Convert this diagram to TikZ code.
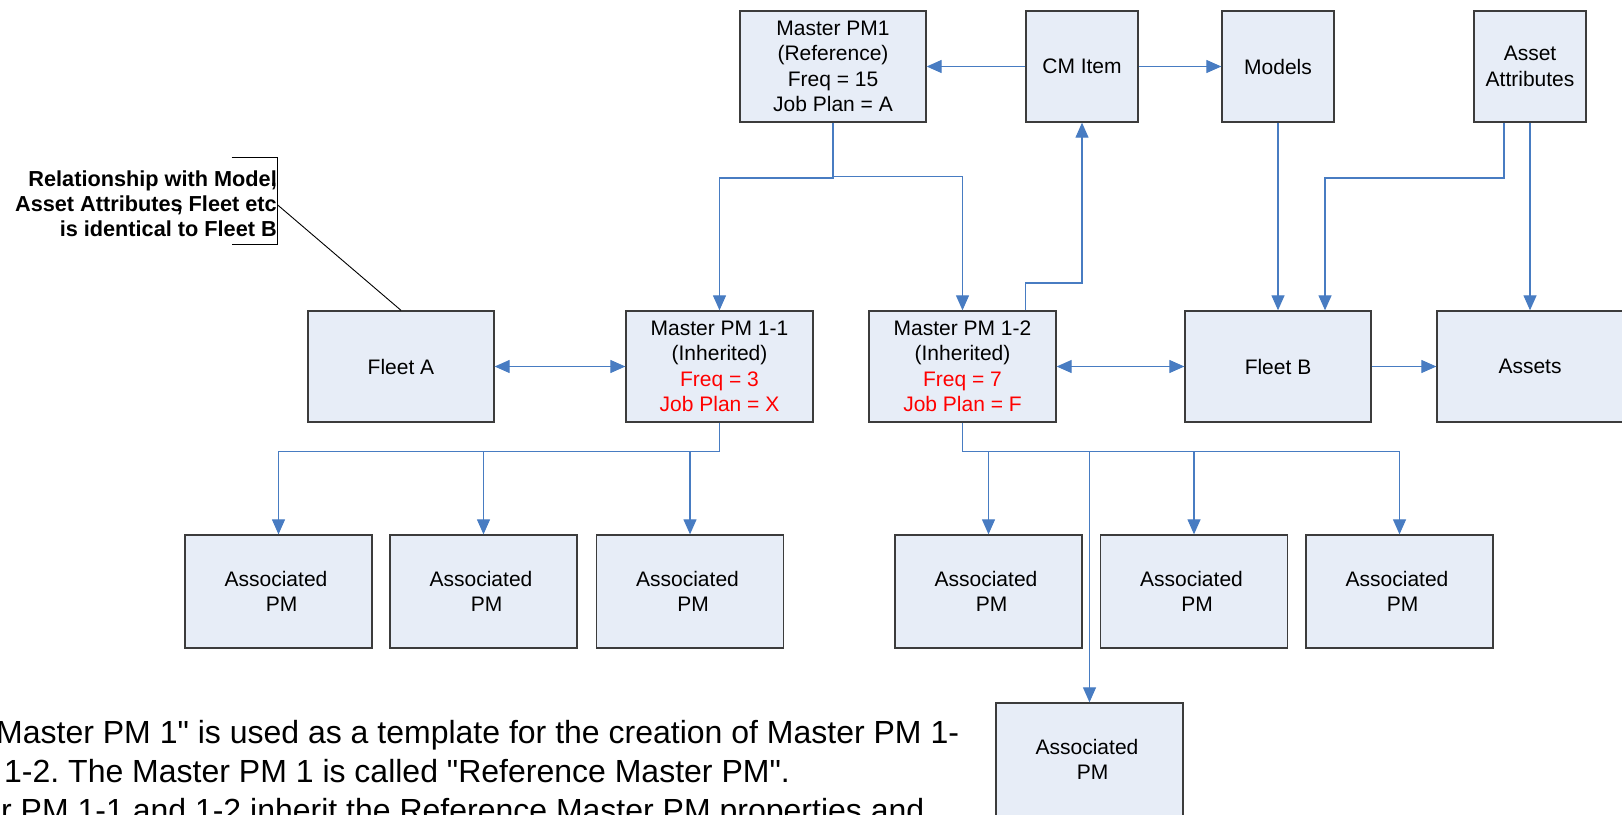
\documentclass[tikz,border=0pt]{standalone}
\usepackage{fontspec}
\setmainfont[Ligatures=TeXOff]{Liberation Sans}
\usetikzlibrary{arrows.meta}
\definecolor{boxfill}{RGB}{231,237,247}
\definecolor{boxline}{RGB}{60,60,60}
\definecolor{wire}{RGB}{72,124,194}
\frenchspacing
\begin{document}
\begin{tikzpicture}[x=1pt,y=-1pt,
  box/.style={draw=boxline, fill=boxfill, line width=1.3pt, inner sep=0pt, align=center,
              font=\fontsize{21}{25.5}\selectfont},
  wbox/.style={box, minimum width=186pt, minimum height=111pt},
  nbox/.style={box, minimum width=112pt, minimum height=111pt},
  abox/.style={box, minimum width=187pt, minimum height=113pt},
  wirestyle/.style={draw=wire, line width=1.2pt},
  conn/.style={wirestyle, -{Triangle[length=15pt,width=13pt]}},
  conntwo/.style={wirestyle, {Triangle[length=15pt,width=13pt]}-{Triangle[length=15pt,width=13pt]}},
  bigtext/.style={font=\fontsize{32}{39}\selectfont, inner sep=0pt, anchor=base west},
]
\useasboundingbox (0,0) rectangle (1622,814);

% top row
\node[wbox] (m1) at (833,66.5) {Master PM1\\(Reference)\\Freq = 15\\Job Plan = A};
\node[nbox] (cm) at (1082,66.5) {CM Item};
\node[nbox] (models) at (1278,66.5) {Models};
\node[nbox] (aa) at (1530,66.5) {Asset\\Attributes};

% middle row
\node[wbox] (fleeta) at (401,366.5) {Fleet A};
\node[wbox, minimum width=187pt] (m11) at (719.5,366.5) {Master PM 1-1\\(Inherited)\\\textcolor{red}{Freq = 3}\\\textcolor{red}{Job Plan = X}};
\node[wbox, minimum width=187pt] (m12) at (962.5,366.5) {Master PM 1-2\\(Inherited)\\\textcolor{red}{Freq = 7}\\\textcolor{red}{Job Plan = F}};
\node[wbox] (fleetb) at (1278,366.5) {Fleet B};
\node[wbox] (assets) at (1530,366.5) {Assets};

% associated PMs
\node[abox] (a1) at (278.5,591.5) {Associated\hspace*{5pt}\\\hspace*{6pt}PM};
\node[abox] (a2) at (483.5,591.5) {Associated\hspace*{5pt}\\\hspace*{6pt}PM};
\node[abox] (a3) at (690,591.5) {Associated\hspace*{5pt}\\\hspace*{6pt}PM};
\node[abox] (a4) at (988.5,591.5) {Associated\hspace*{5pt}\\\hspace*{6pt}PM};
\node[abox] (a5) at (1194,591.5) {Associated\hspace*{5pt}\\\hspace*{6pt}PM};
\node[abox] (a6) at (1399.5,591.5) {Associated\hspace*{5pt}\\\hspace*{6pt}PM};
\node[abox] (a7) at (1089.5,759.5) {Associated\hspace*{5pt}\\\hspace*{6pt}PM};

% connectors, top
\draw[conn] (cm.west) -- (m1.east);
\draw[conn] (cm.east) -- (models.west);
\draw[conn] (m1.south) |- (719.5,178) -- (m11.north);
\draw[conn] (m1.south) |- (962.5,176.7) -- (m12.north);
\draw[conn] ([xshift=63pt]m12.north) |- (1082,283) -- (cm.south);
\draw[conn] (models.south) -- (fleetb.north);
\draw[conn] ([xshift=-26pt]aa.south) |- (1325,178) -- ([xshift=47pt]fleetb.north);
\draw[conn] (aa.south) -- (assets.north);

% connectors, middle
\draw[conntwo] (fleeta.east) -- (m11.west);
\draw[conntwo] (m12.east) -- (fleetb.west);
\draw[conn] (fleetb.east) -- (assets.west);

% connectors, to associated PMs
\coordinate (b1) at (719.5,451.7);
\coordinate (b2) at (962.5,451.7);
\draw[wirestyle] (m11.south) -- (b1);
\draw[wirestyle] (m12.south) -- (b2);
\foreach \n in {a1,a2,a3} \draw[conn] (b1) -| (\n.north);
\foreach \n in {a4,a5,a6,a7} \draw[conn] (b2) -| (\n.north);

% annotation
\node[font=\bfseries\fontsize{21.7}{25}\selectfont, align=right, anchor=base east, inner sep=0pt]
  (note) at (277,236) {Relationship with Model\llap{,}\\Asset Attributes\llap{,} Fleet etc\\is identical to Fleet B};
\coordinate (brk) at (277.7,205);
\draw[black, line width=0.9pt] (231.7,157.3) -- (277.7,157.3) -- (277.7,244) -- (231.7,244);
\draw[black, line width=0.9pt] (brk) -- (fleeta.north);

% bottom text
\node[bigtext] (t1) at (-4,743) {Master PM 1" is used as a template for the creation of Master PM 1-};
\node[bigtext] (t2) at (4,782) {1-2. The Master PM 1 is called "Reference Master PM".};
\node[bigtext] (t3) at (1,821) {r PM 1-1 and 1-2 inherit the Reference Master PM properties and};
\end{tikzpicture}
\end{document}
